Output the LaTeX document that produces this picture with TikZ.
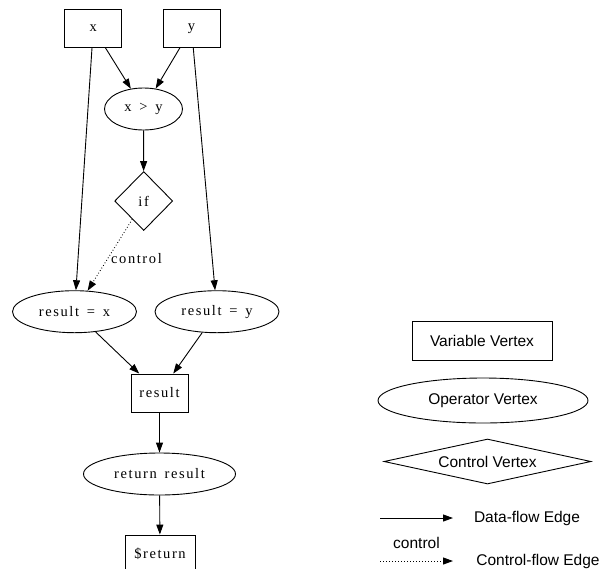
\documentclass[tikz,border=0pt]{standalone}
\usepackage{fontspec}
\setmainfont{Liberation Serif}[LetterSpace=11,WordSpace=1.5]
\newfontfamily\legendfont{Liberation Sans}
\usetikzlibrary{shapes.geometric,arrows.meta}

\begin{document}
\begin{tikzpicture}
			[x=1pt,y=-1pt,line width=0.9pt,>={Triangle[length=10pt,width=7pt]},
			every node/.style={inner sep=0pt,font=\fontsize{14.5}{17}\selectfont},
			var/.style={draw,rectangle,minimum width=57pt,minimum height=38pt},
			op/.style={draw,ellipse},
			ctl/.style={draw,diamond,aspect=1},
			legend/.style={font=\legendfont\fontsize{15.5}{18}\selectfont},
			flow/.style={->},
			ctrlflow/.style={->,dash pattern=on 0.8pt off 2.2pt}]
			\path[use as bounding box,clip] (0,0) rectangle (604,568);
			\node[var] (x) at (93.3,28.3) {x};
			\node[var] (y) at (191.5,28.3) {y};
			\node[op,minimum width=78pt,minimum height=42pt] (gt) at (143.5,109) {x > y};
			\node[ctl,minimum width=58pt,minimum height=59pt] (if) at (143.7,201) {if};
			\node[op,minimum width=124pt,minimum height=42pt] (resx) at (74.5,311.7) {result = x};
			\node[op,minimum width=124pt,minimum height=42pt] (resy) at (217,311.7) {result = y};
			\node[var] (res) at (159.5,393) {result};
			\node[op,minimum width=152pt,minimum height=42pt] (ret) at (159.5,474) {return result};
			\node[var,minimum width=70pt] (sret) at (160,554) {\$return};
			
			\foreach \a/\b in {x/gt,y/gt,x/resx,y/resy,gt/if,resx/res,resy/res,res/ret,ret/sret}
			\draw[flow] (\a) -- (\b);
			\draw[ctrlflow] (if) -- node[pos=0.55,anchor=west,inner sep=3pt] (ctllbl) {control} (resx);
			
			\node[var,legend,minimum width=140pt,minimum height=39pt] (vv) at (482,341) {Variable Vertex};
			\node[op,legend,minimum width=210pt,minimum height=45pt] (ov) at (483,400.5) {Operator Vertex};
			\node[ctl,legend,aspect=4.6,minimum width=207pt,minimum height=45pt] (cv) at (487.5,461.5) {Control Vertex};
			\coordinate (df1) at (380,518);
			\coordinate (df2) at (453,518);
			\node[legend] (dfl) at (527,518) {Data-flow Edge};
			\coordinate (cf1) at (380,561);
			\coordinate (cf2) at (453,561);
			\node[legend] (cfl) at (538,561.5) {Control-flow Edge};
			\draw[flow] (df1) -- (df2);
			\draw[ctrlflow] (cf1) -- node[legend,above=12pt] (cfc) {control} (cf2);
			\end{tikzpicture}
\end{document}
